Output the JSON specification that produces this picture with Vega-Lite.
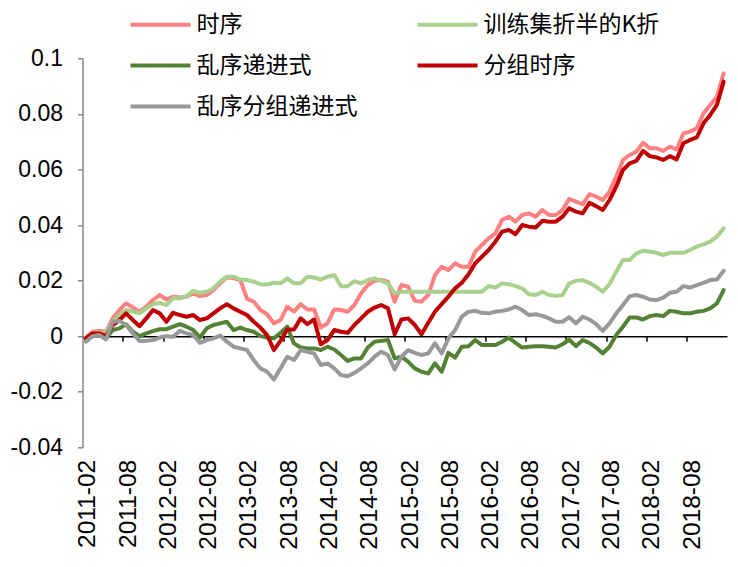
{
  "$schema": "https://vega.github.io/schema/vega-lite/v6.json",
  "width": 644.5,
  "height": 389,
  "autosize": {"type": "none"},
  "padding": {"left": 82.5, "top": 58.3, "right": 11, "bottom": 119.7},
  "background": "white",
  "config": {"view": {"stroke": null}, "font": "Liberation Sans"},
  "data": {"values": [
    {"d":"2011-02","时序":-0.0005,"训练集折半的K折":-0.0005,"乱序递进式":-0.0012,"分组时序":-0.0008,"乱序分组递进式":-0.002},
    {"d":"2011-03","时序":0.0016,"训练集折半的K折":0.001,"乱序递进式":0.0004,"分组时序":0.001,"乱序分组递进式":0},
    {"d":"2011-04","时序":0.0019,"训练集折半的K折":0.0012,"乱序递进式":0.0004,"分组时序":0.001,"乱序分组递进式":0.0004},
    {"d":"2011-05","时序":0.0016,"训练集折半的K折":0.0012,"乱序递进式":-0.0008,"分组时序":0,"乱序分组递进式":-0.0012},
    {"d":"2011-06","时序":0.0064,"训练集折半的K折":0.0052,"乱序递进式":0.0022,"分组时序":0.004,"乱序分组递进式":0.0052},
    {"d":"2011-07","时序":0.0094,"训练集折半的K折":0.0076,"乱序递进式":0.0028,"分组时序":0.0058,"乱序分组递进式":0.0055},
    {"d":"2011-08","时序":0.0118,"训练集折半的K折":0.0094,"乱序递进式":0.0043,"分组时序":0.0082,"乱序分组递进式":0.004},
    {"d":"2011-09","时序":0.0103,"训练集折半的K折":0.0088,"乱序递进式":0.0016,"分组时序":0.0058,"乱序分组递进式":0.001},
    {"d":"2011-10","时序":0.0088,"训练集折半的K折":0.0082,"乱序递进式":0,"分组时序":0.0036,"乱序分组递进式":-0.0017},
    {"d":"2011-11","时序":0.0106,"训练集折半的K折":0.01,"乱序递进式":0.001,"分组时序":0.0064,"乱序分组递进式":-0.0017},
    {"d":"2011-12","时序":0.013,"训练集折半的K折":0.0115,"乱序递进式":0.0018,"分组时序":0.0094,"乱序分组递进式":-0.0014},
    {"d":"2012-01","时序":0.0148,"训练集折半的K折":0.012,"乱序递进式":0.0025,"分组时序":0.0082,"乱序分组递进式":-0.0005},
    {"d":"2012-02","时序":0.0132,"训练集折半的K折":0.0112,"乱序递进式":0.0025,"分组时序":0.0052,"乱序分组递进式":0},
    {"d":"2012-03","时序":0.0142,"训练集折半的K折":0.0136,"乱序递进式":0.0034,"分组时序":0.0084,"乱序分组递进式":-0.0002},
    {"d":"2012-04","时序":0.0139,"训练集折半的K折":0.0136,"乱序递进式":0.0043,"分组时序":0.0076,"乱序分组递进式":0.0019},
    {"d":"2012-05","时序":0.0142,"训练集折半的K折":0.0144,"乱序递进式":0.0034,"分组时序":0.007,"乱序分组递进式":0.001},
    {"d":"2012-06","时序":0.0154,"训练集折半的K折":0.0163,"乱序递进式":0.0022,"分组时序":0.0076,"乱序分组递进式":0.0004},
    {"d":"2012-07","时序":0.0144,"训练集折半的K折":0.0156,"乱序递进式":-0.0005,"分组时序":0.0058,"乱序分组递进式":-0.0024},
    {"d":"2012-08","时序":0.0148,"训练集折半的K折":0.016,"乱序递进式":0.0028,"分组时序":0.0064,"乱序分组递进式":-0.0014},
    {"d":"2012-09","时序":0.0166,"训练集折半的K折":0.0172,"乱序递进式":0.004,"分组时序":0.0082,"乱序分组递进式":-0.0008},
    {"d":"2012-10","时序":0.019,"训练集折半的K折":0.0196,"乱序递进式":0.0046,"分组时序":0.01,"乱序分组递进式":0.0002},
    {"d":"2012-11","时序":0.0211,"训练集折半的K折":0.0214,"乱序递进式":0.0052,"分组时序":0.0115,"乱序分组递进式":-0.002},
    {"d":"2012-12","时序":0.0208,"训练集折半的K折":0.0214,"乱序递进式":0.0022,"分组时序":0.01,"乱序分组递进式":-0.0038},
    {"d":"2013-01","时序":0.0202,"训练集折半的K折":0.0204,"乱序递进式":0.0031,"分组时序":0.0088,"乱序分组递进式":-0.0044},
    {"d":"2013-02","时序":0.0135,"训练集折半的K折":0.0202,"乱序递进式":0.0022,"分组时序":0.0076,"乱序分组递进式":-0.005},
    {"d":"2013-03","时序":0.0124,"训练集折半的K折":0.0196,"乱序递进式":0.0016,"分组时序":0.0052,"乱序分组递进式":-0.0086},
    {"d":"2013-04","时序":0.0094,"训练集折半的K折":0.0187,"乱序递进式":0,"分组时序":0.0031,"乱序分组递进式":-0.0116},
    {"d":"2013-05","时序":0.0079,"训练集折半的K折":0.0186,"乱序递进式":-0.0005,"分组时序":0.0004,"乱序分组递进式":-0.0128},
    {"d":"2013-06","时序":0.0046,"训练集折半的K折":0.0192,"乱序递进式":-0.0008,"分组时序":-0.005,"乱序分组递进式":-0.0156},
    {"d":"2013-07","时序":0.0058,"训练集折半的K折":0.019,"乱序递进式":0.0012,"分组时序":-0.0017,"乱序分组递进式":-0.0116},
    {"d":"2013-08","时序":0.0106,"训练集折半的K折":0.0208,"乱序递进式":0.0034,"分组时序":0.0024,"乱序分组递进式":-0.0074},
    {"d":"2013-09","时序":0.0088,"训练集折半的K折":0.019,"乱序递进式":-0.0026,"分组时序":0.0024,"乱序分组递进式":-0.0086},
    {"d":"2013-10","时序":0.0115,"训练集折半的K折":0.019,"乱序递进式":-0.0041,"分组时序":0.0064,"乱序分组递进式":-0.005},
    {"d":"2013-11","时序":0.0096,"训练集折半的K折":0.0214,"乱序递进式":-0.0044,"分组时序":0.0043,"乱序分组递进式":-0.0056},
    {"d":"2013-12","时序":0.0096,"训练集折半的K折":0.0211,"乱序递进式":-0.0044,"分组时序":0.006,"乱序分组递进式":-0.0062},
    {"d":"2014-01","时序":0.0031,"训练集折半的K折":0.0204,"乱序递进式":-0.005,"分组时序":-0.0029,"乱序分组递进式":-0.0104},
    {"d":"2014-02","时序":0.0046,"训练集折半的K折":0.0214,"乱序递进式":-0.0038,"分组时序":-0.0014,"乱序分组递进式":-0.0098},
    {"d":"2014-03","时序":0.0096,"训练集折半的K折":0.022,"乱序递进式":-0.0048,"分组时序":0.0022,"乱序分组递进式":-0.0116},
    {"d":"2014-04","时序":0.0094,"训练集折半的K折":0.018,"乱序递进式":-0.0068,"分组时序":0.0016,"乱序分组递进式":-0.014},
    {"d":"2014-05","时序":0.0088,"训练集折半的K折":0.018,"乱序递进式":-0.0089,"分组时序":0.0012,"乱序分组递进式":-0.0144},
    {"d":"2014-06","时序":0.0112,"训练集折半的K折":0.0198,"乱序递进式":-0.008,"分组时序":0.004,"乱序分组递进式":-0.0132},
    {"d":"2014-07","时序":0.0154,"训练集折半的K折":0.019,"乱序递进式":-0.008,"分组时序":0.0064,"乱序分组递进式":-0.0116},
    {"d":"2014-08","时序":0.0184,"训练集折半的K折":0.0202,"乱序递进式":-0.0041,"分组时序":0.0088,"乱序分组递进式":-0.0098},
    {"d":"2014-09","时序":0.0199,"训练集折半的K折":0.0208,"乱序递进式":-0.002,"分组时序":0.0103,"乱序分组递进式":-0.0074},
    {"d":"2014-10","时序":0.0202,"训练集折半的K折":0.0199,"乱序递进式":-0.0017,"分组时序":0.0112,"乱序分组递进式":-0.0056},
    {"d":"2014-11","时序":0.0196,"训练集折半的K折":0.019,"乱序递进式":-0.0014,"分组时序":0.01,"乱序分组递进式":-0.0068},
    {"d":"2014-12","时序":0.0124,"训练集折半的K折":0.0154,"乱序递进式":-0.008,"分组时序":0.0007,"乱序分组递进式":-0.012},
    {"d":"2015-01","时序":0.0184,"训练集折半的K折":0.016,"乱序递进式":-0.0074,"分组时序":0.006,"乱序分组递进式":-0.0074},
    {"d":"2015-02","时序":0.0178,"训练集折半的K折":0.016,"乱序递进式":-0.0092,"分组时序":0.0064,"乱序分组递进式":-0.005},
    {"d":"2015-03","时序":0.0127,"训练集折半的K折":0.016,"乱序递进式":-0.0116,"分组时序":0.004,"乱序分组递进式":-0.006},
    {"d":"2015-04","时序":0.0124,"训练集折半的K折":0.016,"乱序递进式":-0.0128,"分组时序":0.0007,"乱序分组递进式":-0.0068},
    {"d":"2015-05","时序":0.0148,"训练集折半的K折":0.016,"乱序递进式":-0.0134,"分组时序":0.0048,"乱序分组递进式":-0.0062},
    {"d":"2015-06","时序":0.022,"训练集折半的K折":0.016,"乱序递进式":-0.0098,"分组时序":0.0088,"乱序分组递进式":-0.0026},
    {"d":"2015-07","时序":0.025,"训练集折半的K折":0.016,"乱序递进式":-0.0128,"分组时序":0.0115,"乱序分组递进式":-0.0062},
    {"d":"2015-08","时序":0.0238,"训练集折半的K折":0.016,"乱序递进式":-0.006,"分组时序":0.0142,"乱序分组递进式":-0.0008},
    {"d":"2015-09","时序":0.0262,"训练集折半的K折":0.016,"乱序递进式":-0.0077,"分组时序":0.0172,"乱序分组递进式":0.0022},
    {"d":"2015-10","时序":0.025,"训练集折半的K折":0.016,"乱序递进式":-0.0038,"分组时序":0.0192,"乱序分组递进式":0.007},
    {"d":"2015-11","时序":0.025,"训练集折半的K折":0.016,"乱序递进式":-0.0036,"分组时序":0.0223,"乱序分组递进式":0.0088},
    {"d":"2015-12","时序":0.0304,"训练集折半的K折":0.016,"乱序递进式":-0.0014,"分组时序":0.0262,"乱序分组递进式":0.0091},
    {"d":"2016-01","时序":0.0328,"训练集折半的K折":0.016,"乱序递进式":-0.0032,"分组时序":0.0286,"乱序分组递进式":0.0084},
    {"d":"2016-02","时序":0.0352,"训练集折半的K折":0.018,"乱序递进式":-0.0032,"分组时序":0.031,"乱序分组递进式":0.0082},
    {"d":"2016-03","时序":0.037,"训练集折半的K折":0.0175,"乱序递进式":-0.0032,"分组时序":0.034,"乱序分组递进式":0.0088},
    {"d":"2016-04","时序":0.0418,"训练集折半的K折":0.019,"乱序递进式":-0.002,"分组时序":0.0376,"乱序分组递进式":0.0091},
    {"d":"2016-05","时序":0.043,"训练集折半的K折":0.0187,"乱序递进式":-0.0005,"分组时序":0.0382,"乱序分组递进式":0.0096},
    {"d":"2016-06","时序":0.0412,"训练集折半的K折":0.018,"乱序递进式":-0.0024,"分组时序":0.0367,"乱序分组递进式":0.0106},
    {"d":"2016-07","时序":0.0436,"训练集折半的K折":0.0172,"乱序递进式":-0.0041,"分组时序":0.04,"乱序分组递进式":0.0094},
    {"d":"2016-08","时序":0.0442,"训练集折半的K折":0.0151,"乱序递进式":-0.0038,"分组时序":0.0394,"乱序分组递进式":0.0076},
    {"d":"2016-09","时序":0.043,"训练集折半的K折":0.0148,"乱序递进式":-0.0036,"分组时序":0.0391,"乱序分组递进式":0.0079},
    {"d":"2016-10","时序":0.0454,"训练集折半的K折":0.016,"乱序递进式":-0.0036,"分组时序":0.0415,"乱序分组递进式":0.0073},
    {"d":"2016-11","时序":0.0436,"训练集折半的K折":0.0148,"乱序递进式":-0.0038,"分组时序":0.0412,"乱序分组递进式":0.0064},
    {"d":"2016-12","时序":0.0436,"训练集折半的K折":0.0145,"乱序递进式":-0.0041,"分组时序":0.0412,"乱序分组递进式":0.0052},
    {"d":"2017-01","时序":0.0454,"训练集折半的K折":0.0148,"乱序递进式":-0.0029,"分组时序":0.043,"乱序分组递进式":0.0052},
    {"d":"2017-02","时序":0.0494,"训练集折半的K折":0.019,"乱序递进式":-0.0013,"分组时序":0.046,"乱序分组递进式":0.0068},
    {"d":"2017-03","时序":0.0484,"训练集折半的K折":0.0199,"乱序递进式":-0.0036,"分组时序":0.0448,"乱序分组递进式":0.0046},
    {"d":"2017-04","时序":0.0475,"训练集折半的K折":0.0202,"乱序递进式":-0.0014,"分组时序":0.0442,"乱序分组递进式":0.007},
    {"d":"2017-05","时序":0.0511,"训练集折半的K折":0.0192,"乱序递进式":-0.0024,"分组时序":0.048,"乱序分组递进式":0.006},
    {"d":"2017-06","时序":0.0502,"训练集折半的K折":0.0178,"乱序递进式":-0.0041,"分组时序":0.0468,"乱序分组递进式":0.0043},
    {"d":"2017-07","时序":0.049,"训练集折半的K折":0.016,"乱序递进式":-0.0062,"分组时序":0.0454,"乱序分组递进式":0.0019},
    {"d":"2017-08","时序":0.052,"训练集折半的K折":0.0187,"乱序递进式":-0.0038,"分组时序":0.049,"乱序分组递进式":0.0046},
    {"d":"2017-09","时序":0.0574,"训练集折半的K折":0.0232,"乱序递进式":0.0004,"分组时序":0.0538,"乱序分组递进式":0.0082},
    {"d":"2017-10","时序":0.0634,"训练集折半的K折":0.0274,"乱序递进式":0.0034,"分组时序":0.0598,"乱序分组递进式":0.0112},
    {"d":"2017-11","时序":0.0652,"训练集折半的K折":0.0274,"乱序递进式":0.0067,"分组时序":0.0622,"乱序分组递进式":0.0144},
    {"d":"2017-12","时序":0.0664,"训练集折半的K折":0.0298,"乱序递进式":0.0067,"分组时序":0.0631,"乱序分组递进式":0.0148},
    {"d":"2018-01","时序":0.0696,"训练集折半的K折":0.0307,"乱序递进式":0.006,"分组时序":0.0667,"乱序分组递进式":0.0142},
    {"d":"2018-02","时序":0.0676,"训练集折半的K折":0.0304,"乱序递进式":0.0072,"分组时序":0.0648,"乱序分组递进式":0.0132},
    {"d":"2018-03","时序":0.0676,"训练集折半的K折":0.03,"乱序递进式":0.0076,"分组时序":0.0643,"乱序分组递进式":0.013},
    {"d":"2018-04","时序":0.0667,"训练集折半的K折":0.0292,"乱序递进式":0.0072,"分组时序":0.0634,"乱序分组递进式":0.0139},
    {"d":"2018-05","时序":0.0682,"训练集折半的K折":0.03,"乱序递进式":0.0091,"分组时序":0.0648,"乱序分组递进式":0.0156},
    {"d":"2018-06","时序":0.0672,"训练集折半的K折":0.03,"乱序递进式":0.0088,"分组时序":0.0636,"乱序分组递进式":0.016},
    {"d":"2018-07","时序":0.073,"训练集折半的K折":0.03,"乱序递进式":0.0082,"分组时序":0.0694,"乱序分组递进式":0.018},
    {"d":"2018-08","时序":0.0736,"训练集折半的K折":0.031,"乱序递进式":0.0082,"分组时序":0.0706,"乱序分组递进式":0.0175},
    {"d":"2018-09","时序":0.0748,"训练集折半的K折":0.0322,"乱序递进式":0.0088,"分组时序":0.0715,"乱序分组递进式":0.0184},
    {"d":"2018-10","时序":0.0802,"训练集折半的K折":0.033,"乱序递进式":0.0091,"分组时序":0.0766,"乱序分组递进式":0.0192},
    {"d":"2018-11","时序":0.0832,"训练集折半的K折":0.034,"乱序递进式":0.01,"分组时序":0.0796,"乱序分组递进式":0.0202},
    {"d":"2018-12","时序":0.0862,"训练集折半的K折":0.0358,"乱序递进式":0.0118,"分组时序":0.0832,"乱序分组递进式":0.0204},
    {"d":"2019-01","时序":0.0946,"训练集折半的K折":0.0388,"乱序递进式":0.0166,"分组时序":0.0916,"乱序分组递进式":0.0235}
  ]},
  "transform": [
    {"fold": ["时序", "训练集折半的K折", "乱序递进式", "分组时序", "乱序分组递进式"], "as": ["series", "value"]}
  ],
  "layer": [
    {
      "mark": {"type": "line", "strokeWidth": 4, "strokeJoin": "round", "strokeCap": "round"},
      "encoding": {
        "x": {
          "field": "d", "type": "ordinal",
          "scale": {"type": "point", "padding": 0.5},
          "axis": {
            "orient": "bottom", "title": null, "domain": false, "ticks": false, "tickSize": 0,
            "values": ["2011-02","2011-08","2012-02","2012-08","2013-02","2013-08","2014-02","2014-08","2015-02","2015-08","2016-02","2016-08","2017-02","2017-08","2018-02","2018-08"],
            "labelAngle": 270, "labelFontSize": 24.5, "labelPadding": 12, "labelOffset": 2, "labelColor": "#000000", "labelFont": "Liberation Sans"
          }
        },
        "y": {
          "field": "value", "type": "quantitative",
          "scale": {"domain": [-0.04, 0.1], "nice": false, "zero": false},
          "axis": {
            "orient": "left", "title": null, "grid": false,
            "values": [-0.04, -0.02, 0, 0.02, 0.04, 0.06, 0.08, 0.1],
            "domainColor": "#888888", "domainWidth": 1.5, "tickColor": "#888888", "tickSize": 5, "tickWidth": 1.5,
            "labelFontSize": 23, "labelPadding": 15, "labelColor": "#000000", "labelFont": "Liberation Sans",
            "labelExpr": "replace(format(datum.value, '~g'), '\u2212', '-')"
          }
        },
        "color": {
          "field": "series", "type": "nominal",
          "scale": {
            "domain": ["时序", "训练集折半的K折", "乱序递进式", "分组时序", "乱序分组递进式"],
            "range": ["#FF8080", "#A9D18E", "#548235", "#C00000", "#999999"]
          },
          "legend": {
            "orient": "none", "legendX": 46, "legendY": -54, "direction": "horizontal", "columns": 2,
            "title": null, "symbolType": "stroke", "symbolSize": 3600, "symbolStrokeWidth": 4,
            "labelFontSize": 23, "labelFont": "Noto Sans CJK SC", "labelColor": "#000000", "labelLimit": 400,
            "columnPadding": 58, "rowPadding": 0, "clipHeight": 40.5, "labelOffset": 4, "padding": 0
          }
        }
      }
    },
    {
      "mark": {"type": "line", "opacity": 0},
      "encoding": {
        "x": {
          "field": "d", "type": "ordinal",
          "axis": {
            "orient": "bottom", "title": null, "labels": false, "offset": -111.14,
            "domain": true, "domainColor": "#000000", "domainWidth": 1.5,
            "ticks": true, "tickColor": "#000000", "tickSize": 5, "tickWidth": 1.5, "tickOffset": -3.36,
            "values": ["2011-08","2012-02","2012-08","2013-02","2013-08","2014-02","2014-08","2015-02","2015-08","2016-02","2016-08","2017-02","2017-08","2018-02","2018-08"]
          }
        },
        "y": {"field": "value", "type": "quantitative"}
      }
    }
  ],
  "resolve": {"axis": {"x": "independent"}}
}
